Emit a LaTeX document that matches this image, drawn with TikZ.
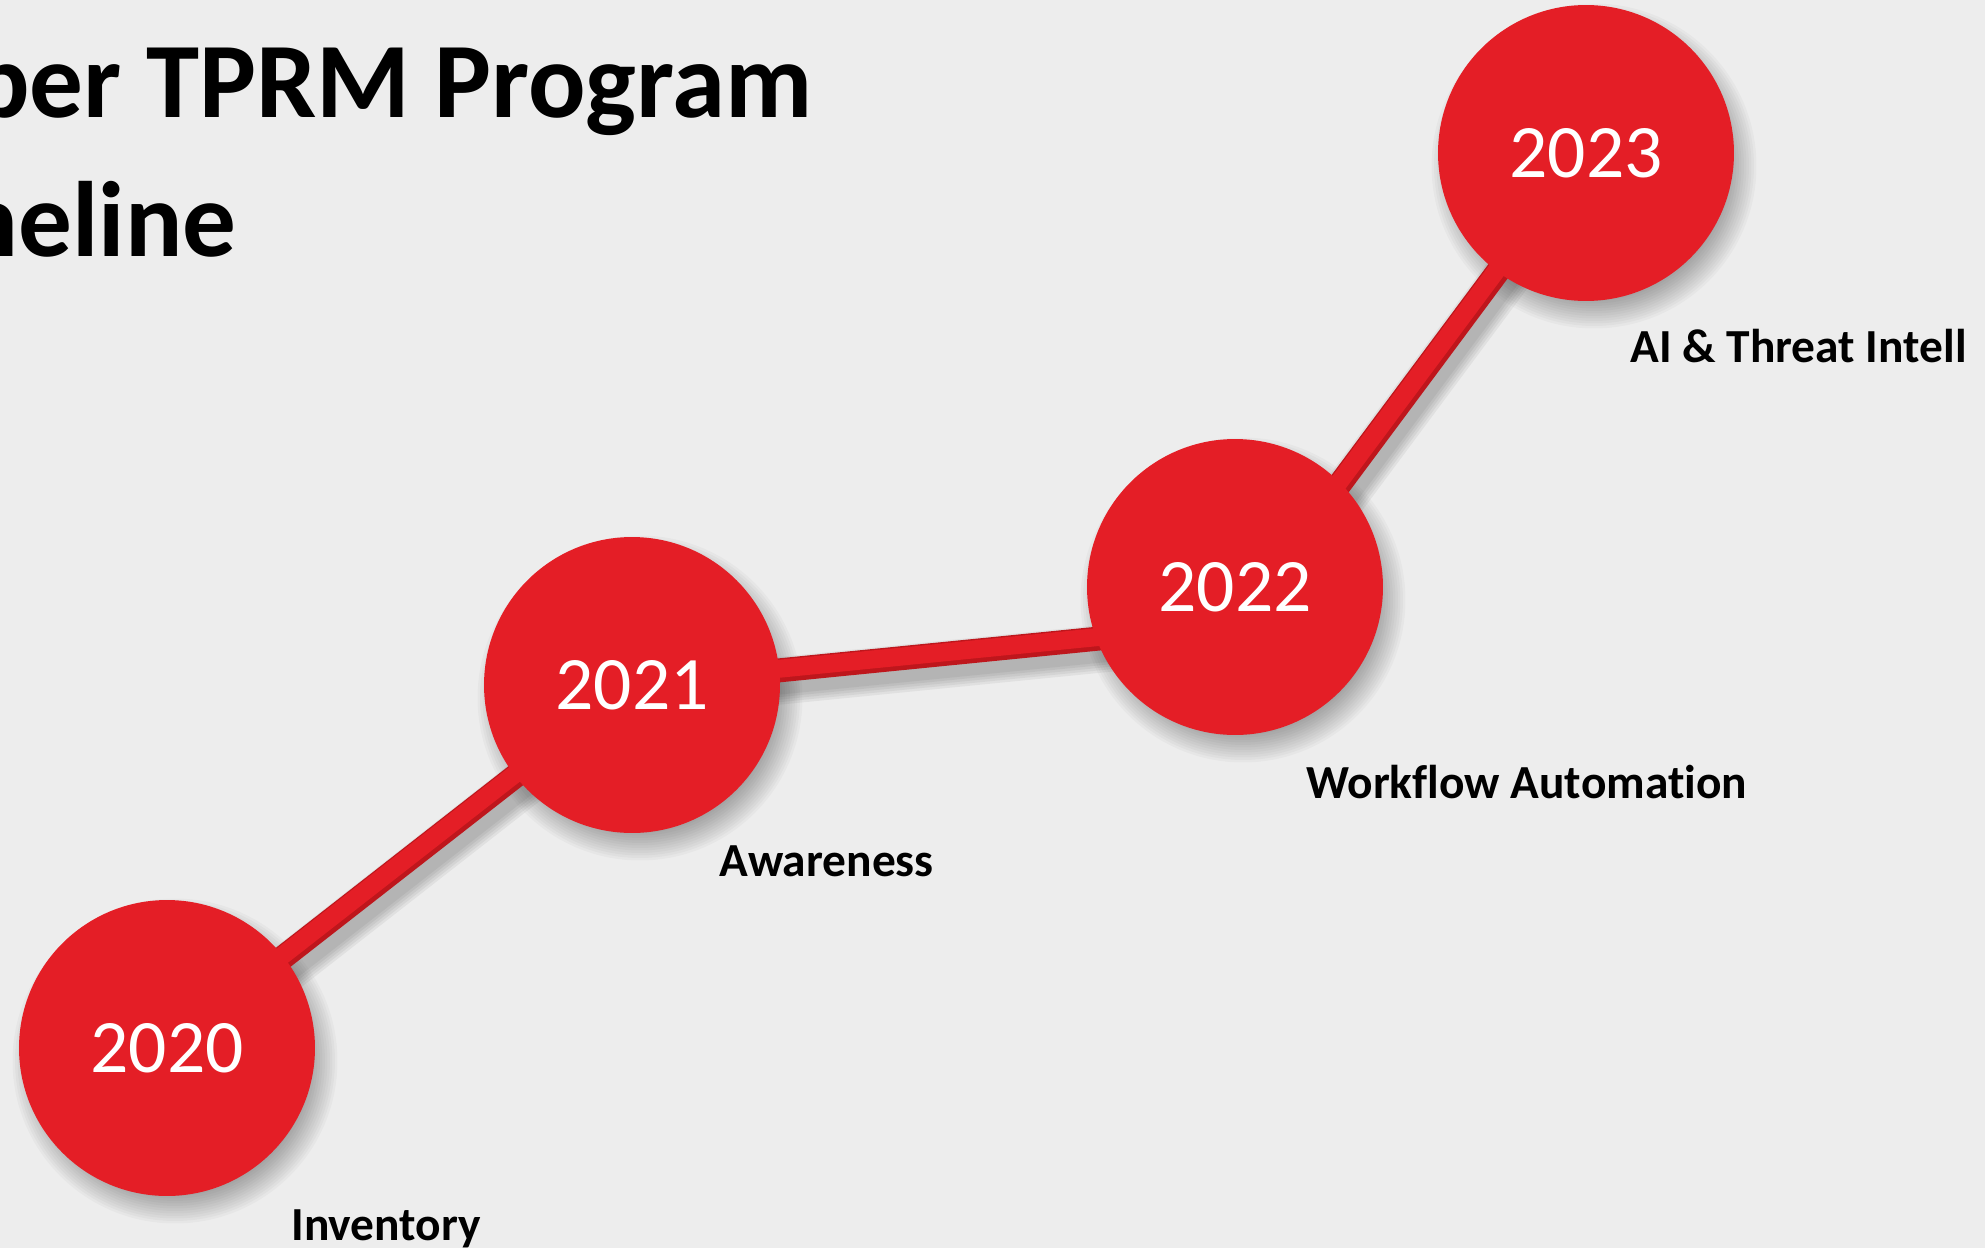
\documentclass[tikz,border=0pt]{standalone}
\usepackage{fontspec}
\setmainfont{Carlito}[Ligatures=NoCommon]
\usetikzlibrary{calc}
\definecolor{bgc}{HTML}{EDEDED}
\definecolor{tred}{HTML}{E41E26}
\definecolor{tdred}{HTML}{BE161C}
\pgfdeclarelayer{back}
\pgfdeclarelayer{shade}
\pgfdeclarelayer{rods}
\pgfsetlayers{back,shade,rods,main}
\tikzset{
  yearball/.style={circle, fill=tred, minimum size=5.92cm, inner sep=0pt,
    text=white, font=\fontsize{43}{52}\selectfont},
  ballshade/.style={fill=black, opacity=0.028},
  milestone/.style={inner sep=0pt, font=\fontsize{27}{32}\selectfont\bfseries, text=black},
  titletext/.style={inner sep=0pt, font=\fontsize{61}{72}\selectfont\bfseries, text=black},
  rodshade/.style={draw=black, opacity=0.05, line cap=round,
    transform canvas={shift={(0.1cm,-0.2cm)}}},
  rodbase/.style={draw=tdred, line width=0.48cm},
  rodtop/.style={draw=tred, line width=0.36cm,
    transform canvas={shift={(-0.02cm,0.03cm)}}},
}
\newcommand\tlrod[2]{%
  \foreach \w in {0.95,0.85,0.75,0.65,0.55}{\draw[rodshade, line width=\w cm] (#1) -- (#2);}
  \draw[rodbase] (#1) -- (#2);
  \draw[rodtop] (#1) -- (#2);
}
\newcommand\tlballshade[1]{%
  \foreach \k in {0,...,11}{\fill[ballshade] ([shift={(0.16cm,-0.26cm)}]#1.center) circle[radius=2.7cm+\k*0.05cm];}
}
\begin{document}
\begin{tikzpicture}[x=0.02cm, y=-0.02cm]
\useasboundingbox (0,0) rectangle (1985,1248);
\begin{pgfonlayer}{back}
  \fill[bgc] (0,0) rectangle (1985,1248);
\end{pgfonlayer}

% title
\node[titletext, anchor=base east] (t1) at (813,117) {Cyber TPRM Program};
\node[titletext, anchor=base east] (t2) at (237,256) {Timeline};

% year balls
\node[yearball] (c2020) at (167,1048) {2020};
\node[yearball] (c2021) at (632,685) {2021};
\node[yearball] (c2022) at (1235,587) {2022};
\node[yearball] (c2023) at (1586,153) {2023};

\coordinate (h2022) at ([yshift=-0.76cm]c2022.center);

% shadows of the balls
\begin{pgfonlayer}{shade}
  \tlballshade{c2020}
  \tlballshade{c2021}
  \tlballshade{c2022}
  \tlballshade{c2023}
\end{pgfonlayer}

% rods
\begin{pgfonlayer}{rods}
  \tlrod{c2020.center}{c2021.center}
  \tlrod{c2021.center}{h2022}
  \tlrod{h2022}{c2023.center}
\end{pgfonlayer}

% labels
\node[milestone, anchor=base west] (l2020) at (291,1240) {Inventory};
\node[milestone, anchor=base west] (l2021) at (719,876) {Awareness};
\node[milestone, anchor=base west] (l2022) at (1306,798) {Workflow Automation};
\node[milestone, anchor=base west] (l2023) at (1630,362) {AI \& Threat Intell};
\end{tikzpicture}
\end{document}
